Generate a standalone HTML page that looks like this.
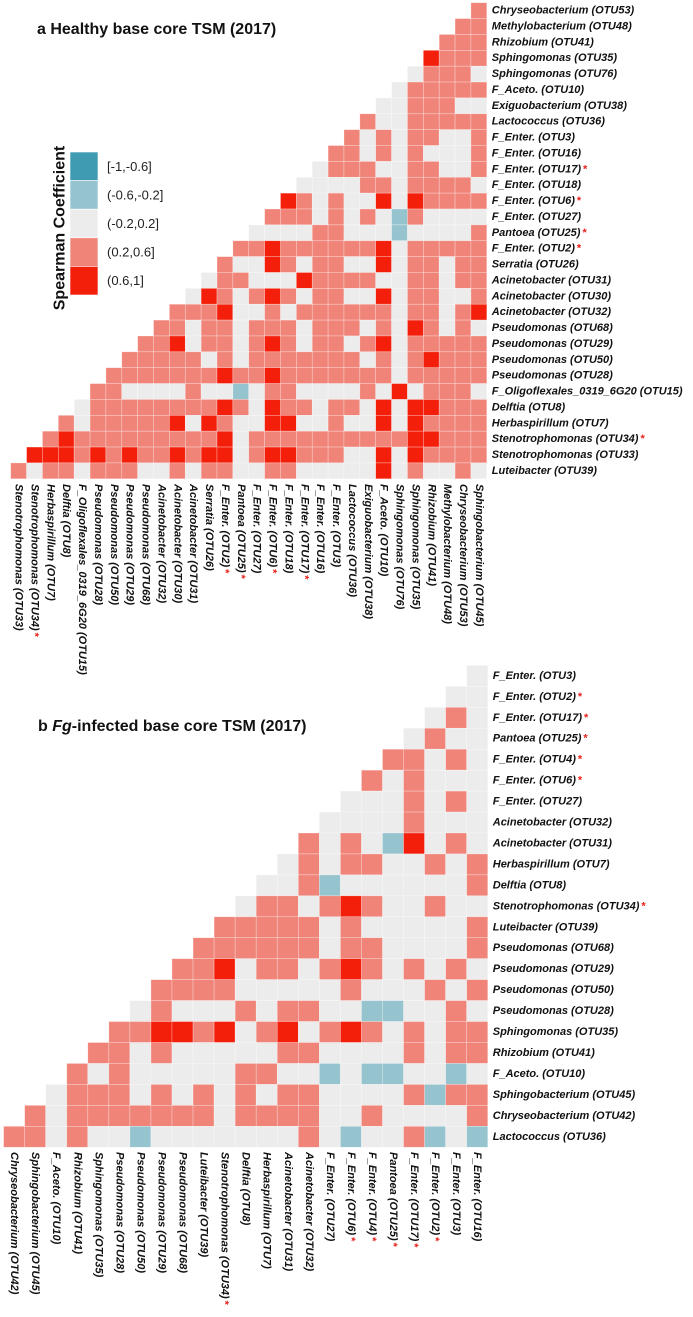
<!DOCTYPE html>
<html>
<head>
<meta charset="utf-8">
<style>
html,body{margin:0;padding:0;background:#fff;}
svg{display:block;}
text{font-family:"Liberation Sans",sans-serif;}
.lab{font-size:11px;font-weight:bold;font-style:italic;fill:#111;}
.ttl{font-size:16px;font-weight:bold;fill:#111;}
.leg{font-size:13px;fill:#222;}
</style>
</head>
<body>
<svg id="fig" width="693" height="1317" viewBox="0 0 693 1317" xmlns="http://www.w3.org/2000/svg">
  <text class="ttl" x="37" y="34">a  Healthy base core TSM (2017)</text>
  <text class="ttl" x="38" y="731">b  <tspan font-style="italic">Fg</tspan>-infected base core TSM (2017)</text>
  <g id="legend"></g>
  <g id="panelA"></g>
  <g id="panelB"></g>
</svg>
<script>
// ---- legend bins ----
const binCodes = ["B","b","g","r","R"];
const binLabels = ["[-1,-0.6]","(-0.6,-0.2]","(-0.2,0.2]","(0.2,0.6]","(0.6,1]"];
const binColors = {B:"#3f9bb2",b:"#95c4cf",g:"#ececec",r:"#f08479",R:"#f41f0b"};

// ---- panel a data ----
const rowLabelsA = ["Chryseobacterium (OTU53)","Methylobacterium (OTU48)","Rhizobium (OTU41)","Sphingomonas (OTU35)","Sphingomonas (OTU76)","F_Aceto. (OTU10)","Exiguobacterium (OTU38)","Lactococcus (OTU36)","F_Enter. (OTU3)","F_Enter. (OTU16)","F_Enter. (OTU17)*","F_Enter. (OTU18)","F_Enter. (OTU6)*","F_Enter. (OTU27)","Pantoea (OTU25)*","F_Enter. (OTU2)*","Serratia (OTU26)","Acinetobacter (OTU31)","Acinetobacter (OTU30)","Acinetobacter (OTU32)","Pseudomonas (OTU68)","Pseudomonas (OTU29)","Pseudomonas (OTU50)","Pseudomonas (OTU28)","F_Oligoflexales_0319_6G20 (OTU15)","Delftia (OTU8)","Herbaspirillum (OTU7)","Stenotrophomonas (OTU34)*","Stenotrophomonas (OTU33)","Luteibacter (OTU39)"];
const colLabelsA = ["Stenotrophomonas (OTU33)","Stenotrophomonas (OTU34)*","Herbaspirillum (OTU7)","Delftia (OTU8)","F_Oligoflexales_0319_6G20 (OTU15)","Pseudomonas (OTU28)","Pseudomonas (OTU50)","Pseudomonas (OTU29)","Pseudomonas (OTU68)","Acinetobacter (OTU32)","Acinetobacter (OTU30)","Acinetobacter (OTU31)","Serratia (OTU26)","F_Enter. (OTU2)*","Pantoea (OTU25)*","F_Enter. (OTU27)","F_Enter. (OTU6)*","F_Enter. (OTU18)","F_Enter. (OTU17)*","F_Enter. (OTU16)","F_Enter. (OTU3)","Lactococcus (OTU36)","Exiguobacterium (OTU38)","F_Aceto. (OTU10)","Sphingomonas (OTU76)","Sphingomonas (OTU35)","Rhizobium (OTU41)","Methylobacterium (OTU48)","Chryseobacterium (OTU53)","Sphingobacterium (OTU45)"];
// each row lists bins for its columns, right-aligned to the last column
const cellsA = ["r","rr","rrr","Rrrr","grrrg","grrrrr","ggrrrgg","rggrrrrr","rgrgrrggr","rrgrgrgggr","grrrggrrggr","ggggrrgrrrrg","RrgrggRgRrrrr","rrrgrgrgbrgggg","ggggrrgggbggggr","rrRrrrrrrRgrrrrr","rggRrgrrggRgrrgrr","grrgggRrrrrggrrgrr","gRrgrRrgrrggRgrrggr","rrrRggrgrrrrrrgrrgrR","rrgrrgrrrgrrrgrgRrgrg","rrRgrrgrRrgrrgrRgrrrrr","rrrrrgrgrrrrrrrgrgrRrrr","rrrrrrrRrrRrrrrrrrgrrrrr","rrggggrggbgrrggggrgRgrrrg","grrrrrrrrRrgRrrgrrgRgRRrrr","rgrrrrrRgRrggRRggrggRgRrrrr","rRrrrrrrrrrRgrrrrrrrrrrRRrrr","RRRrRrRrrRrRRgrRRrrrggRgRrrrr","rgrrgrrrggrgrrggrrgggggRgrggrg"];

// ---- panel b data ----
const rowLabelsB = ["F_Enter. (OTU3)","F_Enter. (OTU2)*","F_Enter. (OTU17)*","Pantoea (OTU25)*","F_Enter. (OTU4)*","F_Enter. (OTU6)*","F_Enter. (OTU27)","Acinetobacter (OTU32)","Acinetobacter (OTU31)","Herbaspirillum (OTU7)","Delftia (OTU8)","Stenotrophomonas (OTU34)*","Luteibacter (OTU39)","Pseudomonas (OTU68)","Pseudomonas (OTU29)","Pseudomonas (OTU50)","Pseudomonas (OTU28)","Sphingomonas (OTU35)","Rhizobium (OTU41)","F_Aceto. (OTU10)","Sphingobacterium (OTU45)","Chryseobacterium (OTU42)","Lactococcus (OTU36)"];
const colLabelsB = ["Chryseobacterium (OTU42)","Sphingobacterium (OTU45)","F_Aceto. (OTU10)","Rhizobium (OTU41)","Sphingomonas (OTU35)","Pseudomonas (OTU28)","Pseudomonas (OTU50)","Pseudomonas (OTU29)","Pseudomonas (OTU68)","Luteibacter (OTU39)","Stenotrophomonas (OTU34)*","Delftia (OTU8)","Herbaspirillum (OTU7)","Acinetobacter (OTU31)","Acinetobacter (OTU32)","F_Enter. (OTU27)","F_Enter. (OTU6)*","F_Enter. (OTU4)*","Pantoea (OTU25)*","F_Enter. (OTU17)*","F_Enter. (OTU2)*","F_Enter. (OTU3)","F_Enter. (OTU16)"];
const cellsB = ["g","gg","grg","grgg","rrgrg","rgrggg","gggrgrg","ggggrggg","rgrgbRgrg","grgrrggrgr","ggrbggggggr","grrgrRrggrgg","rrrrrgrgggggr","rrrrrrgrrggggr","rrRgrrgrRrgrgrg","rrrrgggggrgggrgr","grgggrgrrggbbggrg","rrRRrRgrRgrRrgrgrr","rrgrgggggrrggggrgrr","rgrgggggrrggbgbbggbg","grrrgrgrgrgrrggggrbrr","rgrrrrrrrgrrrrggrggggr","rrgrggbgggggggrgbggrb gb".replace(" ","")];

const NS = "http://www.w3.org/2000/svg";
function mk(tag, attrs, parent){
  const e = document.createElementNS(NS, tag);
  for (const k in attrs) e.setAttribute(k, attrs[k]);
  parent.appendChild(e);
  return e;
}
function labelText(parent, str, attrs){
  const t = mk("text", attrs, parent);
  const star = str.endsWith("*");
  const base = star ? str.slice(0,-1) : str;
  t.appendChild(document.createTextNode(base));
  if (star){
    const s = mk("tspan", {fill:"#e8211c", dx:"2", "font-style":"normal"}, t);
    s.textContent = "*";
  }
  return t;
}

function drawPanel(g, rows, cols, cells, x0, y0, cw, ch, xLabY, prefix){
  const n = cols.length;
  const xPos = j => x0 + j*cw;
  const yPos = i => y0 + i*ch;
  cells.forEach((s, i) => {
    const start = n - s.length;
    for (let k = 0; k < s.length; k++){
      const j = start + k;
      const r = mk("rect", {x:xPos(j), y:yPos(i), width:cw, height:ch, fill:binColors[s[k]], stroke:"rgba(255,255,255,0.45)", "stroke-width":"0.6"}, g);
      
      
    }
  });
  rows.forEach((lab, i) => {
    const t = labelText(g, lab, {class:"lab", x:xPos(n)+5, y:yPos(i)+ch/2, "dominant-baseline":"central"});
    
    
  });
  cols.forEach((lab, j) => {
    const cx = xPos(j) + cw/2;
    const t = labelText(g, lab, {class:"lab", x:0, y:0, "dominant-baseline":"central", transform:"translate(" + cx + "," + xLabY + ") rotate(90)"});
    
    
  });
}

drawPanel(document.getElementById("panelA"), rowLabelsA, colLabelsA, cellsA, 10.7, 2.7, 15.87, 15.87, 484, "panel-a");
drawPanel(document.getElementById("panelB"), rowLabelsB, colLabelsB, cellsB, 3.6, 665.4, 21.05, 20.95, 1152, "panel-b");

// legend
const lg = document.getElementById("legend");
const lt = mk("text", {class:"ttl", x:0, y:0, "text-anchor":"middle", "dominant-baseline":"central", transform:"translate(60,228) rotate(-90)"}, lg);
lt.textContent = "Spearman Coefficient";


binCodes.forEach((c, i) => {
  const y = 152 + i*28.6;
  const r = mk("rect", {x:70, y:y, width:28, height:28.6, fill:binColors[c], stroke:"#fff", "stroke-width":"0.6"}, lg);
  
  
  const t = mk("text", {class:"leg", x:107, y:y+14.3, "dominant-baseline":"central"}, lg);
  t.textContent = binLabels[i];
  
  
});
</script>
</body>
</html>
